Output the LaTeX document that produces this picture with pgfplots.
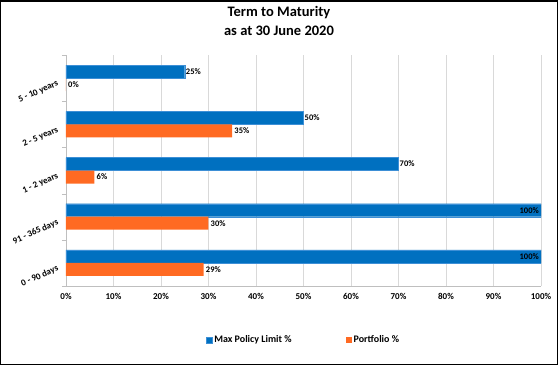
\documentclass[border=0pt]{standalone}
\usepackage{fontspec}
\setmainfont{Carlito}
\usepackage{pgfplots}
\pgfplotsset{compat=1.18}
\definecolor{cblue}{HTML}{0070C0}
\definecolor{cblueedge}{HTML}{3D8FD6}
\definecolor{corange}{HTML}{FF6A22}
\definecolor{cgrid}{HTML}{D9D9D9}
\definecolor{caxis}{HTML}{BFBFBF}
\begin{document}
\begin{tikzpicture}
\useasboundingbox (-66pt,-79pt) rectangle (492pt,286pt);
\draw[line width=1.5pt] (-65.25pt,-78.25pt) rectangle (491.25pt,285.25pt);
\begin{axis}[
  at={(0pt,0pt)}, anchor=south west,
  scale only axis, width=475pt, height=231pt,
  xbar, bar width=13pt,
  xmin=0, xmax=100, ymin=-0.5, ymax=4.5,
  axis x line*=bottom, axis y line*=left,
  axis line style={caxis, -},
  xtick={0,10,...,100},
  xticklabel={\pgfmathprintnumber{\tick}\%},
  /pgf/number format/assume math mode=true,
  xticklabel style={font=\fontsize{9}{10}\selectfont\bfseries, yshift=-4pt},
  xmajorgrids, grid style={cgrid, line width=0.8pt},
  ytick={0,1,2,3,4},
  yticklabels={0 - 90 days, 91 - 365 days, 1 - 2 years, 2 - 5 years, 5 - 10 years},
  yticklabel style={font=\fontsize{9}{10}\selectfont\bfseries, rotate=24, anchor=north east, inner sep=0.5pt, xshift=-9pt, yshift=3pt},
  minor ytick={-0.5,0.5,1.5,2.5,3.5,4.5},
  major tick length=0pt, minor tick length=4pt,
  tick align=outside,
  tick style={caxis},
  title={Term to Maturity\\as at 30 June 2020},
  title style={at={(0.4484,1.123)}, anchor=center, align=center, font=\fontsize{14.5}{19}\selectfont\bfseries},
  legend style={at={(0.5,-0.234)}, anchor=center, draw=none, legend columns=2,
    font=\fontsize{10}{12}\selectfont\bfseries, /tikz/every even column/.append style={column sep=52pt}},
  legend image code/.code={\fill[#1] (0pt,-3pt) rectangle (6pt,3pt);},
  every node near coord/.append style={font=\fontsize{8.5}{10}\selectfont\bfseries, text=black},
]
\addplot[fill=cblue, draw=cblueedge, bar shift=6.5pt] coordinates {(100,0) (100,1) (70,2) (50,3) (25,4)};
\addlegendentry{Max Policy Limit \%}
\addplot[fill=corange, draw=none, bar shift=-6.5pt] coordinates {(29,0) (30,1) (6,2) (35,3) (0,4)};
\addlegendentry{Portfolio \%}
% labels
\addplot[draw=none, fill=none, bar shift=6.5pt, forget plot,
  nodes near coords={\pgfmathprintnumber{\pgfplotspointmeta}\%},
  nodes near coords style={anchor=west, inner sep=1pt}] coordinates {(70,2) (50,3) (25,4)};
\addplot[draw=none, fill=none, bar shift=6.5pt, forget plot,
  nodes near coords={\pgfmathprintnumber{\pgfplotspointmeta}\%},
  nodes near coords style={anchor=east, inner sep=2pt}] coordinates {(100,0) (100,1)};
\addplot[draw=none, fill=none, bar shift=-6.5pt, forget plot,
  nodes near coords={\pgfmathprintnumber{\pgfplotspointmeta}\%},
  nodes near coords style={anchor=west, inner sep=2pt}] coordinates {(29,0) (30,1) (6,2) (35,3) (0,4)};
\end{axis}
\end{tikzpicture}
\end{document}
